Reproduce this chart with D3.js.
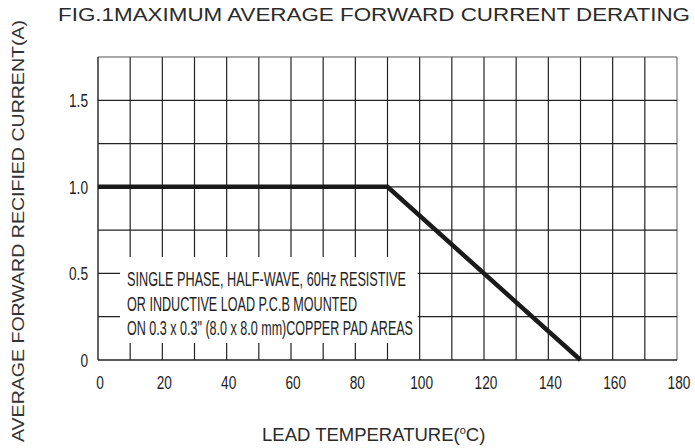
<!DOCTYPE html>
<html>
<head>
<meta charset="utf-8">
<script src="https://cdn.jsdelivr.net/npm/d3@7"></script>
<style>
  body { margin: 0; background: #fff; }
  text { font-family: "Liberation Sans", Arial, sans-serif; fill: #222; }
</style>
</head>
<body>
<svg id="chart" width="695" height="448"></svg>
<script>
// data
const curveTemp = [0, 90, 150]
const curveAmps = [1.0, 1.0, 0]
const xTicks = [0, 20, 40, 60, 80, 100, 120, 140, 160, 180]
const yTicks = [0, 0.5, 1.0, 1.5]
const yTickLabels = ["0", "0.5", "1.0", "1.5"]
const noteLines = [
    "SINGLE PHASE, HALF-WAVE, 60Hz RESISTIVE",
    "OR INDUCTIVE LOAD P.C.B MOUNTED",
    "ON 0.3 x 0.3\" (8.0 x 8.0 mm)COPPER PAD AREAS"
]
const noteWidths = [279, 230, 286]

var svg = d3.select('#chart')
var margin = {top: 57, left: 98, right: 18, bottom: 88},
    width = 695 - margin.left - margin.right,
    height = 448 - margin.top - margin.bottom

var g = svg.append('g')
    .attr('transform', 'translate(' + margin.left + ',' + margin.top + ')')

var x = d3.scaleLinear().domain([0, 180]).range([0, width])
var y = d3.scaleLinear().domain([0, 1.75]).range([height, 0])

// grid, every 10 deg and every 0.25 A
g.append('g').selectAll('line')
    .data(d3.range(10, 190, 10))
    .join('line')
    .attr('x1', d => x(d)).attr('x2', d => x(d))
    .attr('y1', 0).attr('y2', height)
    .attr('stroke', d => d == 180 ? '#777' : '#222')
    .attr('stroke-width', 1.2)

g.append('g').selectAll('line')
    .data(d3.range(0.25, 2, 0.25))
    .join('line')
    .attr('x1', 0).attr('x2', width)
    .attr('y1', d => y(d)).attr('y2', d => y(d))
    .attr('stroke', d => d == 1.75 ? '#555' : '#222')
    .attr('stroke-width', 1.2)

// left and bottom edges
g.append('line').attr('x1', 0).attr('x2', 0).attr('y1', 0).attr('y2', height)
    .attr('stroke', '#222').attr('stroke-width', 1.4)
g.append('line').attr('x1', 0).attr('x2', width).attr('y1', height).attr('y2', height)
    .attr('stroke', '#222').attr('stroke-width', 1.6)

// tick labels, squeezed sideways like a narrow face
g.append('g').selectAll('text')
    .data(xTicks)
    .join('text')
    .attr('transform', d => 'translate(' + (x(d) + 2) + ',' + (height + 29) + ') scale(0.72,1)')
    .attr('text-anchor', 'middle')
    .attr('font-size', 19)
    .text(d => d)

g.append('g').selectAll('text')
    .data(yTicks)
    .join('text')
    .attr('transform', d => 'translate(-10,' + (y(d) + 7) + ') scale(0.72,1)')
    .attr('text-anchor', 'end')
    .attr('font-size', 19)
    .text((d, i) => yTickLabels[i])

// note box hides the grid behind it
g.append('rect')
    .attr('x', 22).attr('y', 200)
    .attr('width', x(100) - 24).attr('height', 86)
    .attr('fill', '#fff')

g.append('g').selectAll('text')
    .data(noteLines)
    .join('text')
    .attr('x', 29)
    .attr('y', (d, i) => 229 + i * 24.5)
    .attr('font-size', 19.5)
    .attr('textLength', (d, i) => noteWidths[i])
    .attr('lengthAdjust', 'spacingAndGlyphs')
    .text(d => d)

// derating curve
var pts = curveTemp.map((t, i) => [t, curveAmps[i]])
g.append('path')
    .datum(pts)
    .attr('fill', 'none')
    .attr('stroke', '#1a1a1a')
    .attr('stroke-width', 4.5)
    .attr('stroke-linejoin', 'miter')
    .attr('d', d3.line().x(d => x(d[0])).y(d => y(d[1])))

// titles
svg.append('text')
    .attr('x', 58).attr('y', 21)
    .attr('font-size', 18.5)
    .style('fill', '#2a2a2a')
    .attr('textLength', 632)
    .attr('lengthAdjust', 'spacingAndGlyphs')
    .text('FIG.1MAXIMUM AVERAGE FORWARD CURRENT DERATING')

svg.append('text')
    .attr('transform', 'translate(24,231) rotate(-90)')
    .attr('text-anchor', 'middle')
    .attr('font-size', 17)
    .style('fill', '#333')
    .attr('textLength', 422)
    .attr('lengthAdjust', 'spacingAndGlyphs')
    .text('AVERAGE FORWARD RECIFIED CURRENT(A)')

var xl = svg.append('text')
    .attr('x', 262).attr('y', 441)
    .attr('font-size', 18.5)
    .style('fill', '#2a2a2a')
xl.append('tspan').text('LEAD TEMPERATURE(')
xl.append('tspan').attr('font-size', 11).attr('dy', -7).text('o')
xl.append('tspan').attr('dy', 7).text('C)')
</script>
</body>
</html>
